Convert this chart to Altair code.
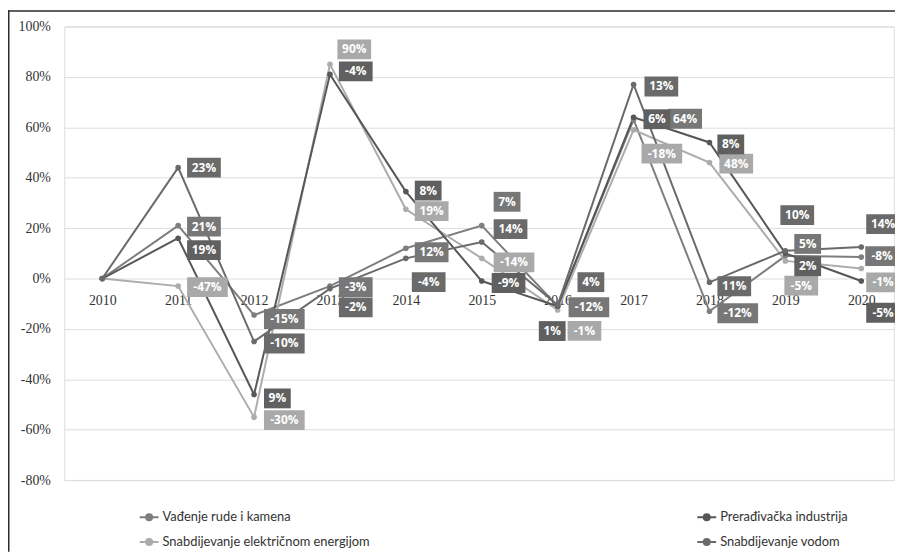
import altair as alt
import pandas as pd

# ---------------- data ----------------
years = list(range(2010, 2021))
series_names = [
    "Vađenje rude i kamena",
    "Snabdijevanje električnom energijom",
    "Prerađivačka industrija",
    "Snabdijevanje vodom",
]
series_colors = ["#7e7e7e", "#acacac", "#575757", "#6a6a6a"]
box_colors = ["#777777", "#a9a9a9", "#606060", "#6a6a6a"]

vadjenje = [0, 21, -14.5, -3, 12, 21, -11, 63, -13, 9, 8.5]
elektricna = [0, -3, -55, 85, 27.5, 8, -12.5, 59, 46, 7, 4]
preradjivacka = [0, 16, -46, 81, 34.5, -1, -11, 64, 54, 10, -1]
voda = [0, 44, -25, -4, 8, 14.5, -10.5, 77, -1.5, 11, 12.5]

vadjenje_lbl = [None, "21%", "-15%", "-3%", "12%", "7%", "-12%", "64%", "-12%", "5%", "-8%"]
elektricna_lbl = [None, "-47%", "-30%", "90%", "19%", "-14%", "-1%", "-18%", "48%", "-5%", "-1%"]
preradjivacka_lbl = [None, "19%", "9%", "-4%", "8%", "-9%", "1%", "6%", "8%", "2%", "-5%"]
voda_lbl = [None, "23%", "-10%", "-2%", "-4%", "14%", "4%", "13%", "11%", "10%", "14%"]

title_text = "Grafik 2. Trend kretanja industrije u odnosu na prethodnu godinu, 2010 = 0"

# ---------------- layout / style ----------------
PAD_L, PAD_T, PAD_R = 56.75, 16.5, 1.25
W, H = 836, 457.2
TOTAL_H = 546
PAD_B = TOTAL_H - PAD_T - H
X_MIN = 2009.5
PX_PER_YEAR = 76.5
X_MAX = X_MIN + W / PX_PER_YEAR
Y_MIN, Y_MAX = -80, 100
PX_PER_UNIT = H / (Y_MAX - Y_MIN)

# label placement style: (gap to box left edge px, vertical shift px) per year 2011..2020
label_style = {
    "Vađenje rude i kamena": [(9, 1), (10, 4), (9, 1), (9, 4), (12, -24), (11, 1), (35, -1), (8, 2), (9, -12), (4, -1)],
    "Prerađivačka industrija": [(9, 12), (10, 4), (9, -3), (9, -1), (10, 2), (-19, 25), (10, 2), (8, 2), (9, 13), (5, 32)],
    "Snabdijevanje električnom energijom": [(9, 1), (10, 3), (7.5, -15), (9, 2), (12, 4), (10, 21), (8, 24), (10, 1), (-1, 25), (5, 14)],
    "Snabdijevanje vodom": [(9, 0), (10, 2), (9, 19), (6, 24), (12, -13), (20, -23), (11, 2), (8, 4), (-5, -36), (5, -23)],
}
BOX_W = {2: 27, 3: 34, 4: 41}
BOX_H = 20
SYM_SCALE = 20.0  # custom symbol path scale = sqrt(size)/2


def box_path(w, h):
    a, b = w / 2 / SYM_SCALE, h / 2 / SYM_SCALE
    return f"M{-a:.3f},{-b:.3f}H{a:.3f}V{b:.3f}H{-a:.3f}Z"


all_vals = [vadjenje, elektricna, preradjivacka, voda]
all_lbls = [vadjenje_lbl, elektricna_lbl, preradjivacka_lbl, voda_lbl]

line_rows = []
label_rows = []
for si, name in enumerate(series_names):
    for yi, yr in enumerate(years):
        line_rows.append({"year": yr, "value": all_vals[si][yi], "series": name})
        lab = all_lbls[si][yi]
        if lab is None:
            continue
        gap, shift = label_style[name][yi - 1]
        w = BOX_W[len(lab)]
        label_rows.append({
            "lx": yr + (gap + w / 2) / PX_PER_YEAR,
            "ly": all_vals[si][yi] - shift / PX_PER_UNIT,
            "label": lab,
            "box": box_path(w, BOX_H),
            "fillc": box_colors[si],
        })

df_lines = pd.DataFrame(line_rows)
df_labels = pd.DataFrame(label_rows)

x_scale = alt.Scale(domain=[X_MIN, X_MAX], nice=False, zero=False)
y_scale = alt.Scale(domain=[Y_MIN, Y_MAX], nice=False, zero=False)

legend_sym = "M-1,0H-0.32M0.32,0H1M0.32,0A0.32,0.32,0,1,1,-0.32,0A0.32,0.32,0,1,1,0.32,0Z"

lines = alt.Chart(df_lines).mark_line(
    strokeWidth=2,
    point=alt.OverlayMarkDef(filled=True, size=32, opacity=1),
).encode(
    x=alt.X("year:Q", scale=x_scale,
            axis=alt.Axis(values=years, format="d", title=None, domain=False, ticks=False,
                          grid=False, offset=-(H - (Y_MAX - 0) * PX_PER_UNIT), labelPadding=15,
                          labelFont="Liberation Serif", labelFontSize=14, labelColor="#333333",
                          labelFlush=False)),
    y=alt.Y("value:Q", scale=y_scale,
            axis=alt.Axis(values=list(range(-80, 101, 20)), labelExpr="datum.value + '%'",
                          title=None, domain=False, ticks=False, grid=True, gridColor="#dddddd",
                          gridWidth=1, labelPadding=14, labelFont="Liberation Serif",
                          labelFontSize=14, labelColor="#333333", labelFlush=False)),
    color=alt.Color("series:N", scale=alt.Scale(domain=series_names, range=series_colors),
                    legend=alt.Legend(title=None, orient="none", legendX=75, legendY=484,
                                      columns=2, columnPadding=325, rowPadding=7,
                                      symbolType=legend_sym, symbolSize=361, symbolStrokeWidth=2,
                                      labelFont="Lato", labelFontSize=13, labelColor="#333333",
                                      labelOffset=3, labelLimit=400)),
    order=alt.Order("year:Q"),
)

boxes = alt.Chart(df_labels).mark_point(filled=True, opacity=1, strokeWidth=0, size=(2 * SYM_SCALE) ** 2).encode(
    x=alt.X("lx:Q", scale=x_scale),
    y=alt.Y("ly:Q", scale=y_scale),
    shape=alt.Shape("box:N", scale=None, legend=None),
    fill=alt.Fill("fillc:N", scale=None, legend=None),
)

texts = alt.Chart(df_labels).mark_text(
    font="Open Sans", fontSize=12, fontWeight="bold", color="white", align="center", baseline="middle"
).encode(
    x=alt.X("lx:Q", scale=x_scale),
    y=alt.Y("ly:Q", scale=y_scale),
    text="label:N",
)

one = pd.DataFrame({"k": [0]})
frame_left = alt.Chart(one).mark_rule(color="#2b2b2b", strokeWidth=1.5).encode(
    x=alt.value(-PAD_L + 0.75), y=alt.value(-PAD_T), y2=alt.value(H + PAD_B))
frame_top = alt.Chart(one).mark_rule(color="#2b2b2b", strokeWidth=1.5).encode(
    x=alt.value(-PAD_L), x2=alt.value(W + PAD_R), y=alt.value(-PAD_T + 0.75))

chart = alt.layer(lines, boxes, texts, frame_left, frame_top).properties(
    width=W, height=H,
    autosize=alt.AutoSizeParams(type="none"),
    padding={"left": PAD_L, "top": PAD_T, "right": PAD_R, "bottom": PAD_B},
    description=title_text,
).configure_view(stroke=None).configure(background="white")

chart.save("out.html", embed_options={"renderer": "svg", "actions": False})
